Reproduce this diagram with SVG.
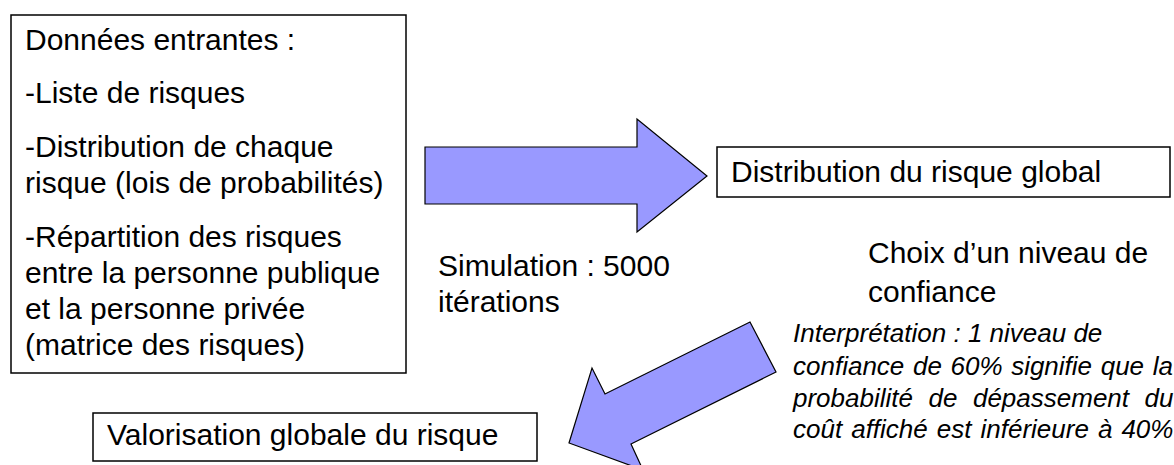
<svg xmlns="http://www.w3.org/2000/svg" width="1174" height="465" viewBox="0 0 1174 465">
<style>
.box{fill:#fff;stroke:#000;stroke-width:1.5}
.arrow{fill:#9999ff;stroke:#000;stroke-width:1.2;stroke-linejoin:miter}
text{font-family:"Liberation Sans",Arial,sans-serif;fill:#000}
.t{font-size:30px}
.it{font-size:26px;font-style:italic}
</style>
<rect width="1174" height="465" fill="#fff"/>
<g id="connectors">
<polygon id="arrow-simulation" class="arrow" points="425,147 637,147 637,119 707,176 637,232 637,204 425,204"/>
<polygon id="arrow-choix" class="arrow" points="750,322 605,394 592,368 569,443 643,470 631,444 776,372"/>
</g>
<g id="donnees">
<rect class="box" x="11" y="15" width="395" height="358"/>
<text class="t" x="25" y="50">Données entrantes :</text>
<text class="t" x="25" y="103">-Liste de risques</text>
<text class="t" x="25" y="157">-Distribution de chaque</text>
<text class="t" x="25" y="193">risque (lois de probabilités)</text>
<text class="t" x="25" y="247">-Répartition des risques</text>
<text class="t" x="25" y="283">entre la personne publique</text>
<text class="t" x="25" y="319">et la personne privée</text>
<text class="t" x="25" y="355">(matrice des risques)</text>
</g>
<g id="distribution">
<rect class="box" x="717" y="147" width="453" height="50"/>
<text class="t" x="731" y="182">Distribution du risque global</text>
</g>
<g id="valorisation">
<rect class="box" x="93" y="413" width="444" height="48"/>
<text class="t" x="107" y="445">Valorisation globale du risque</text>
</g>
<g id="label-simulation">
<text class="t" x="438" y="276">Simulation : 5000</text>
<text class="t" x="438" y="312">itérations</text>
</g>
<g id="label-choix">
<text class="t" x="868" y="263">Choix d’un niveau de</text>
<text class="t" x="868" y="302">confiance</text>
</g>
<g id="label-interpretation">
<text class="it" x="793" y="342">Interprétation : 1 niveau de</text>
<text class="it" x="793" y="375" word-spacing="1.4">confiance de 60% signifie que la</text>
<text class="it" x="793" y="407" word-spacing="8.3">probabilité de dépassement du</text>
<text class="it" x="793" y="438" word-spacing="1.8">coût affiché est inférieure à 40%</text>
</g>
</svg>
